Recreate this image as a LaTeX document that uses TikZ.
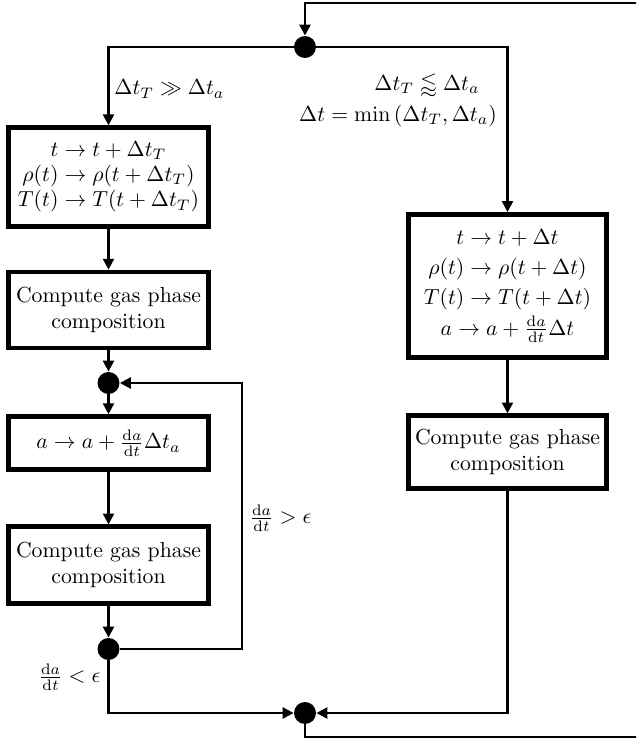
\documentclass[tikz,border=0pt]{standalone}
\usepackage{amsmath,amssymb}
\usetikzlibrary{arrows.meta}
\begin{document}
\begin{tikzpicture}[x=0.46pt,y=-0.46pt,
  conn/.style={line width=1.15pt},
  arr/.style={conn,-{Triangle[length=5pt,width=5pt]}},
  procbox/.style={draw,line width=2.07pt,minimum width=92pt,align=center,inner sep=2pt},
  junc/.style={circle,fill,inner sep=0pt,minimum size=10.1pt},
  lbl/.style={inner sep=0pt}]
\useasboundingbox (0,0) rectangle (636,739);
\clip (0,0) rectangle (636,739);
% junctions
\node[junc] (j0) at (305,47) {};
\node[junc] (j1) at (108.5,383) {};
\node[junc] (j2) at (108.5,649) {};
\node[junc] (jb) at (305,713) {};
% left column boxes
\node[procbox,minimum height=45.5pt] (b1) at (108.5,177)
  {$t \to t + \Delta t_T$\\[-0.4pt] $\rho(t) \to \rho(t+\Delta t_T)$\\[-0.4pt] $T(t) \to T(t+\Delta t_T)$};
\node[procbox,minimum height=35pt] (b2) at (108.5,310)
  {Compute gas phase\\[0.3pt] composition};
\node[procbox,minimum height=24.4pt] (b3) at (108.5,443)
  {$a \to a + \frac{\mathrm{d}a}{\mathrm{d}t}\Delta t_a$};
\node[procbox,minimum height=35.2pt] (b4) at (108.5,565)
  {Compute gas phase\\[0.3pt] composition};
% right column boxes
\node[procbox,minimum width=91pt,minimum height=66pt] (r1) at (507.5,286)
  {$t \to t + \Delta t$\\[2pt] $\rho(t) \to \rho(t+\Delta t)$\\[2pt] $T(t) \to T(t+\Delta t)$\\[2pt] $a \to a + \frac{\mathrm{d}a}{\mathrm{d}t}\Delta t$};
\node[procbox,minimum width=91pt,minimum height=33.4pt] (r2) at (507.5,452)
  {Compute gas phase\\[0.3pt] composition};
% labels
\node[lbl,anchor=west] (l1) at (114,89) {$\Delta t_T \gg \Delta t_a$};
\node[lbl] (l2) at (427,85) {$\Delta t_T \lessapprox \Delta t_a$};
\node[lbl] (l3) at (398,116) {$\Delta t = \min\left(\Delta t_T, \Delta t_a\right)$};
\node[lbl,anchor=west] (l4) at (249,518) {$\frac{\mathrm{d}a}{\mathrm{d}t} > \epsilon$};
\node[lbl,anchor=west] (l5) at (38,677) {$\frac{\mathrm{d}a}{\mathrm{d}t} < \epsilon$};
% helper coordinates
\coordinate (br) at (660,737);
\coordinate (tr) at (660,3);
\coordinate (fb) at (242,649);
% connectors
\draw[arr] (jb) |- (br) -- (tr) -| (j0);
\draw[arr] (j0) -| (b1);
\draw[arr] (j0) -| (r1);
\draw[arr] (b1) -- (b2);
\draw[arr] (b2) -- (j1);
\draw[arr] (j1) -- (b3);
\draw[arr] (b3) -- (b4);
\draw[arr] (b4) -- (j2);
\draw[arr] (j2) -- (fb) |- (j1);
\draw[arr] (j2) |- (jb);
\draw[arr] (r1) -- (r2);
\draw[arr] (r2) |- (jb);
\end{tikzpicture}
\end{document}
